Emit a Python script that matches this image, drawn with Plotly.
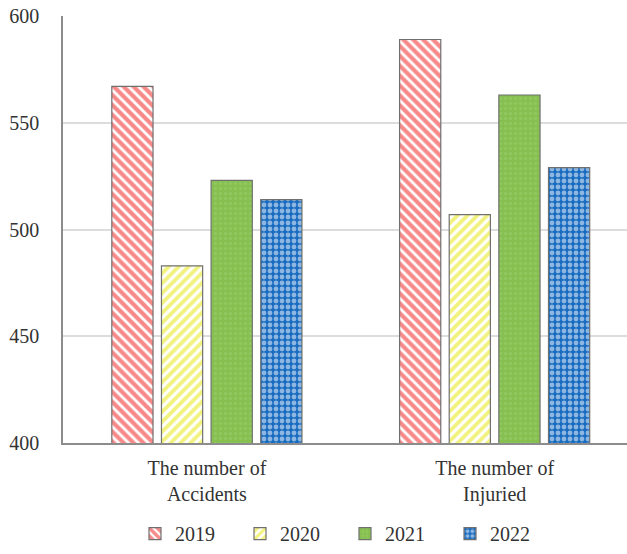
import plotly.graph_objects as go

categories = ["The number of<br>Accidents", "The number of<br>Injuried"]
years = ["2019", "2020", "2021", "2022"]
values_2019 = [567, 589]
values_2020 = [483, 507]
values_2021 = [523, 563]
values_2022 = [514, 529]
y_ticks = [400, 450, 500, 550, 600]

series = [
    ("2019", values_2019, dict(shape="\\", fgcolor="#f01414", bgcolor="white", size=7, solidity=0.6)),
    ("2020", values_2020, dict(shape="/", fgcolor="#e6e600", bgcolor="white", size=7, solidity=0.55)),
    ("2021", values_2021, dict(shape=".", fgcolor="#9fd072", bgcolor="#86c050", size=5, solidity=0.3)),
    ("2022", values_2022, dict(shape=".", fgcolor="white", bgcolor="#1a6cc0", size=6, solidity=0.5)),
]

fig = go.Figure()
for name, vals, pat in series:
    fig.add_trace(go.Bar(
        x=categories, y=vals, name=name,
        marker=dict(color=pat["bgcolor"], pattern=pat,
                    line=dict(color="#707070", width=1.2)),
    ))

font = "'Times New Roman', 'Liberation Serif', serif"
fig.update_layout(
    width=627, height=554,
    margin=dict(l=63, r=0, t=16, b=111),
    paper_bgcolor="white", plot_bgcolor="white",
    barmode="group", bargap=0.31, bargroupgap=0.17,
    font=dict(family=font, size=19, color="#333333"),
    showlegend=True,
    legend=dict(orientation="h", x=0.5, xanchor="center", y=-0.258, yanchor="bottom",
                font=dict(family=font, size=20, color="#333333"),
                entrywidth=60, entrywidthmode="pixels", itemwidth=30,
                traceorder="normal"),
    xaxis=dict(range=[-0.5, 1.46], showgrid=False, showline=True, linecolor="#8c8c8c",
               linewidth=1.5, ticks="", ticklabelstandoff=6,
               tickfont=dict(family=font, size=20, color="#333333")),
    yaxis=dict(range=[400, 600], tickvals=y_ticks, showgrid=True, gridcolor="#dcdcdc",
               gridwidth=1.5, showline=True, linecolor="#8c8c8c", linewidth=1.5,
               ticks="", ticklabelstandoff=18, zeroline=False,
               tickfont=dict(family=font, size=20, color="#333333")),
)

fig.write_html("out.html")
